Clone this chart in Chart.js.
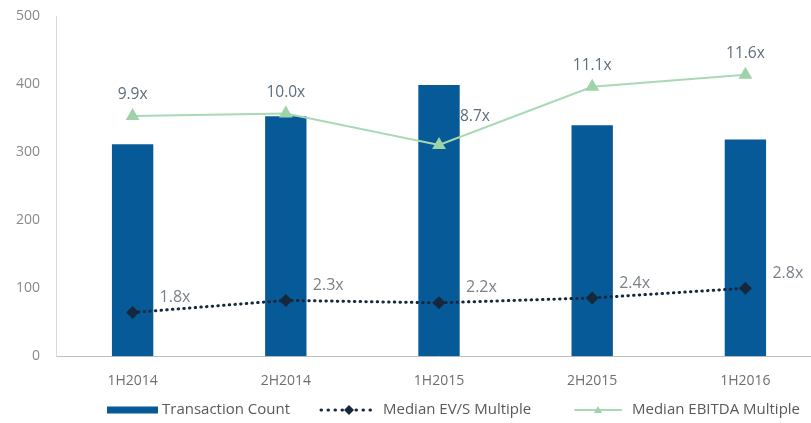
<!DOCTYPE html>
<html>
<head>
<meta charset="utf-8">
<script src="https://cdn.jsdelivr.net/npm/chart.js@4.4.1/dist/chart.umd.min.js"></script>
<style>
  html, body { margin: 0; padding: 0; background: #ffffff; overflow: hidden; }
  #wrap { position: relative; width: 830px; height: 423px; }
</style>
</head>
<body>
<div id="wrap"><canvas id="c"></canvas></div>
<script>
const categories = ['1H2014', '2H2014', '1H2015', '2H2015', '1H2016'];
const transactionCount = [312, 353, 399, 340, 319];
const medianEVS = [1.8, 2.3, 2.2, 2.4, 2.8];
const medianEBITDA = [9.9, 10.0, 8.7, 11.1, 11.6];
const yTicks = [0, 100, 200, 300, 400, 500];
const seriesNames = ['Transaction Count', 'Median EV/S Multiple', 'Median EBITDA Multiple'];
// label placement for EBITDA labels ('above' or 'right')
const ebitdaLabelPlace = ['above', 'above', 'right', 'above', 'above'];

const BAR = '#075a98';
const GREEN = '#a9d9b3';
const GREEN_PT = '#9ed3a9';
const DARK = '#16283c';
const FONT = "'Open Sans', 'Noto Sans', sans-serif";

const labelPlugin = {
  id: 'multLabels',
  afterDatasetsDraw(chart) {
    const ctx = chart.ctx;
    ctx.save();
    // EBITDA labels
    const m2 = chart.getDatasetMeta(2);
    ctx.font = '15.5px ' + FONT;
    ctx.fillStyle = '#5d6c7d';
    ctx.textBaseline = 'middle';
    m2.data.forEach((p, i) => {
      const t = medianEBITDA[i].toFixed(1) + 'x';
      if (ebitdaLabelPlace[i] === 'right') {
        ctx.textAlign = 'left';
        ctx.fillText(t, p.x + 21, p.y - 28);
      } else {
        ctx.textAlign = 'center';
        ctx.fillText(t, p.x, p.y - 21);
      }
    });
    // EV/S labels
    const m1 = chart.getDatasetMeta(1);
    ctx.font = '16px ' + FONT;
    ctx.fillStyle = '#7b8189';
    ctx.textAlign = 'left';
    m1.data.forEach((p, i) => {
      const t = medianEVS[i].toFixed(1) + 'x';
      ctx.fillText(t, p.x + 27, p.y - 15);
    });
    ctx.restore();
  },
  afterDraw(chart) {
    const ctx = chart.ctx;
    ctx.save();
    ctx.font = '15px ' + FONT;
    ctx.textBaseline = 'middle';
    ctx.textAlign = 'left';
    const y = 410;
    // bar swatch
    ctx.fillStyle = BAR;
    ctx.fillRect(107, y - 3.5, 51, 7);
    ctx.fillStyle = '#595959';
    ctx.fillText(seriesNames[0], 162, y);
    // dotted swatch
    ctx.strokeStyle = DARK;
    ctx.lineWidth = 3;
    ctx.lineCap = 'round';
    ctx.setLineDash([0.5, 6.5]);
    ctx.beginPath(); ctx.moveTo(321, y); ctx.lineTo(377, y); ctx.stroke();
    ctx.setLineDash([]);
    ctx.fillStyle = DARK;
    const dx = 349;
    ctx.beginPath(); ctx.moveTo(dx, y - 5); ctx.lineTo(dx + 5, y); ctx.lineTo(dx, y + 5); ctx.lineTo(dx - 5, y); ctx.closePath(); ctx.fill();
    ctx.fillStyle = '#595959';
    ctx.fillText(seriesNames[1], 383, y);
    // green swatch
    ctx.strokeStyle = GREEN;
    ctx.lineWidth = 2;
    ctx.beginPath(); ctx.moveTo(575, y); ctx.lineTo(621, y); ctx.stroke();
    ctx.fillStyle = GREEN_PT;
    const gx = 598;
    ctx.beginPath(); ctx.moveTo(gx, y - 4); ctx.lineTo(gx + 4, y + 3); ctx.lineTo(gx - 4, y + 3); ctx.closePath(); ctx.fill();
    ctx.fillStyle = '#595959';
    ctx.fillText(seriesNames[2], 632, y);
    ctx.restore();
  }
};

new Chart(document.getElementById('c'), {
  data: {
    labels: categories,
    datasets: [
      {
        type: 'bar',
        label: seriesNames[0],
        data: transactionCount,
        backgroundColor: BAR,
        barPercentage: 0.27,
        categoryPercentage: 1,
        yAxisID: 'y',
        order: 3
      },
      {
        type: 'line',
        label: seriesNames[1],
        data: medianEVS,
        borderColor: DARK,
        borderWidth: 3,
        borderDash: [0.5, 5.2],
        borderCapStyle: 'round',
        pointStyle: 'rectRot',
        pointRadius: 6.5,
        pointBackgroundColor: DARK,
        pointBorderColor: DARK,
        pointBorderWidth: 0,
        fill: false,
        tension: 0,
        yAxisID: 'y2',
        order: 1
      },
      {
        type: 'line',
        label: seriesNames[2],
        data: medianEBITDA,
        borderColor: GREEN,
        borderWidth: 2,
        pointStyle: 'triangle',
        pointRadius: 8,
        pointBackgroundColor: GREEN_PT,
        pointBorderColor: GREEN_PT,
        pointBorderWidth: 0,
        fill: false,
        tension: 0,
        yAxisID: 'y2',
        order: 2
      }
    ]
  },
  options: {
    responsive: true,
    maintainAspectRatio: false,
    animation: false,
    layout: { padding: { top: 13, right: 8, left: 8, bottom: 26 } },
    plugins: {
      legend: { display: false },
      tooltip: { enabled: false }
    },
    scales: {
      x: {
        grid: { display: false },
        border: { display: true, color: '#bfbfbf', width: 1 },
        ticks: { color: '#6f6f6f', font: { family: FONT, size: 14 }, padding: 8, maxRotation: 0 }
      },
      y: {
        min: 0,
        max: 500,
        afterBuildTicks: (axis) => { axis.ticks = yTicks.map(v => ({ value: v })); },
        grid: { display: false },
        border: { display: true, color: '#d9d9d9', width: 1 },
        ticks: { color: '#8a8a8a', font: { family: FONT, size: 14 }, padding: 8 }
      },
      y2: {
        min: 0,
        max: 14,
        display: false,
        position: 'right'
      }
    }
  },
  plugins: [labelPlugin]
});
</script>
</body>
</html>
